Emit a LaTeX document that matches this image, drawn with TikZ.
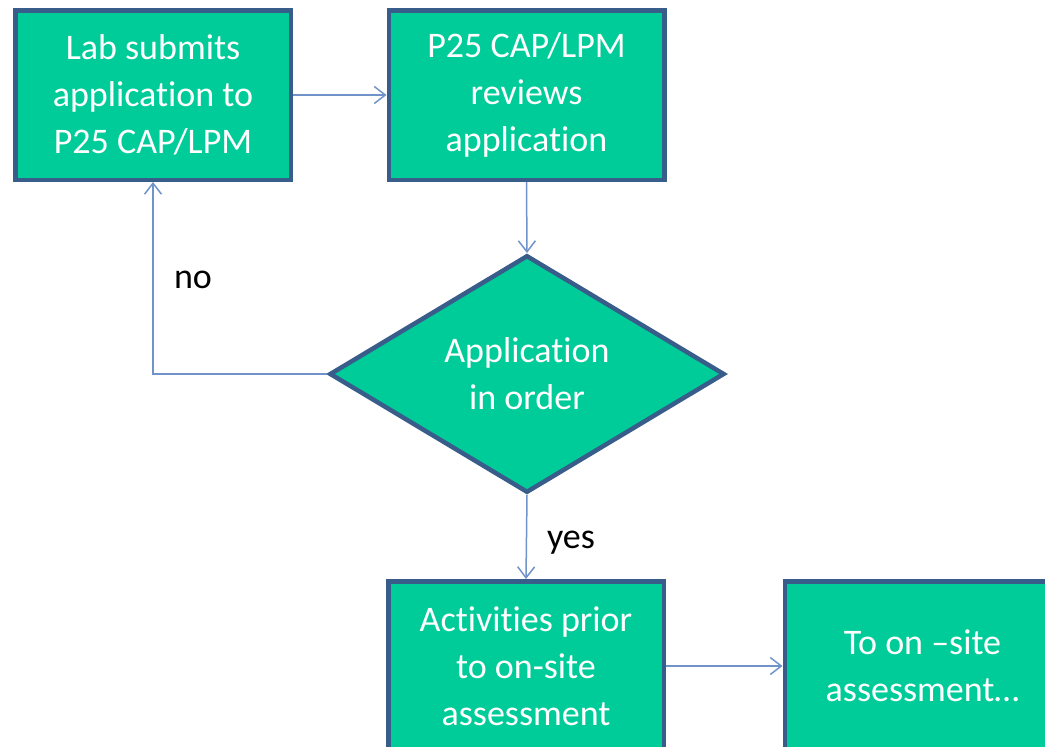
\documentclass[tikz,border=0pt]{standalone}
\usepackage{fontspec}
\setmainfont[Ligatures=NoCommon]{Carlito}
\usetikzlibrary{shapes.geometric,arrows.meta}
\definecolor{boxfill}{HTML}{00CC99}
\definecolor{boxline}{HTML}{385D8A}
\definecolor{flowline}{HTML}{7094C9}
\tikzset{
  stepbox/.style={rectangle, draw=boxline, fill=boxfill, line width=4.5pt,
    minimum width=275.5pt, minimum height=169.5pt, inner sep=0pt,
    text=white, align=center, font=\fontsize{36}{47}\selectfont},
  decision/.style={diamond, draw=boxline, fill=boxfill, line width=4.5pt,
    minimum width=395pt, minimum height=231pt, inner sep=0pt,
    text=white, align=center, font=\fontsize{36}{47}\selectfont},
  flow/.style={draw=flowline, line width=1.5pt,
    -{Straight Barb[length=11pt,width=17pt,line width=1.5pt]}},
  tag/.style={text=black, font=\fontsize{36}{47}\selectfont, inner sep=0pt}
}
\begin{document}
\begin{tikzpicture}[x=1pt, y=-1pt]
  \useasboundingbox (0,0) rectangle (1045,747);
  \clip (0,0) rectangle (1045,747);
  \fill[white] (0,0) rectangle (1045,747);

  \node[stepbox] (submit) at (153,95) {Lab submits\\application to\\P25 CAP/LPM};
  \node[stepbox] (review) at (526.5,95) {P25 CAP/LPM\\reviews\\application};
  \node[decision] (order) at (527,374) {Application\\in order};
  \node[stepbox] (prior) at (526,666) {Activities prior\\to on-site\\assessment};
  \node[stepbox] (onsite) at (922.5,666) {To on –site\\assessment…};

  \coordinate (corner) at (153,374);

  \draw[flow] (submit.east) -- (review.west);
  \draw[flow] (review.south) -- (order.north);
  \draw[flow] (order.west) -- (corner) -- (submit.south);
  \draw[flow] (order.south) -- (prior.north);
  \draw[flow] (prior.east) -- (onsite.west);

  \node[tag] (no) at (193,280) {no};
  \node[tag] (yes) at (571,543) {yes};
\end{tikzpicture}
\end{document}
